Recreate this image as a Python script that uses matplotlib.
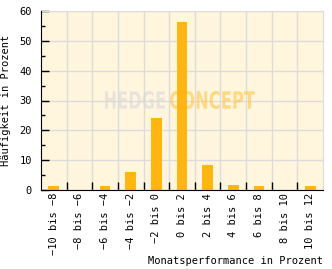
import numpy as np
import matplotlib
matplotlib.use("Agg")
import matplotlib.pyplot as plt
from matplotlib.ticker import MultipleLocator
from matplotlib.textpath import TextPath
from matplotlib.font_manager import FontProperties
from matplotlib.patches import PathPatch
from matplotlib.transforms import Affine2D, IdentityTransform

# === DATA ===
categories = ["-10 bis -8", "-8 bis -6", "-6 bis -4", "-4 bis -2", "-2 bis 0",
              "0 bis 2", "2 bis 4", "4 bis 6", "6 bis 8", "8 bis 10", "10 bis 12"]
frequency = [1.5, 0.0, 1.5, 6.2, 24.0, 56.2, 8.5, 1.8, 1.2, 0.0, 1.2]

# === STYLE ===
BG = "#fff6dd"
BAR = "#ffb612"
GRID = "#dcdcdc"
plt.rcParams["font.family"] = ["DejaVu Sans Mono"]
plt.rcParams["font.size"] = 7.5

fig = plt.figure(figsize=(3.32, 2.69), dpi=100)
ax = fig.add_axes([41 / 332, 1 - 190 / 269, 282 / 332, 179 / 269])
ax.set_facecolor(BG)

x = np.arange(len(categories))
ax.bar(x, frequency, width=0.42, color=BAR, zorder=3)

ax.set_xlim(-0.5, len(categories) - 0.5)
ax.set_ylim(0, 60)

# gridlines at category boundaries
ax.set_xticks(x[:-1] + 0.5, minor=True)
ax.set_xticks(x)
ax.set_xticklabels([c.replace("-", "\u2212") for c in categories], rotation=90)
ax.yaxis.set_major_locator(MultipleLocator(10))
ax.yaxis.set_minor_locator(MultipleLocator(5))
ax.grid(True, which="minor", axis="x", color=GRID, lw=1, zorder=0)
ax.grid(True, which="major", axis="y", color=GRID, lw=1, zorder=0)

ax.tick_params(axis="x", which="major", length=0, pad=2)
ax.tick_params(axis="x", which="minor", direction="in", length=6, width=1, color="black")
ax.tick_params(axis="y", which="major", direction="in", length=6, width=1, pad=6.5)
ax.tick_params(axis="y", which="minor", direction="in", length=3, width=1)

for s in ["top", "right"]:
    ax.spines[s].set_color(GRID)
for s in ["left", "bottom"]:
    ax.spines[s].set_color("black")
    ax.spines[s].set_zorder(4)

ax.set_ylabel("Häufigkeit in Prozent", labelpad=6)
fig.text(323 / 332, 1 - 261 / 269, "Monatsperformance in Prozent",
         ha="right", va="center", fontsize=7.5)

# watermark, squeezed into a narrow box (pixel coords, origin bottom-left)
H = 269
wm_font = FontProperties(family="DejaVu Sans", weight="bold")


def watermark(word, x0, x1, y0, y1, color):
    tp = TextPath((0, 0), word, size=10, prop=wm_font)
    ext = tp.get_extents()
    tr = (Affine2D().translate(-ext.x0, -ext.y0)
          .scale((x1 - x0) / ext.width, (y1 - y0) / ext.height)
          .translate(x0, H - y1))
    patch = PathPatch(tr.transform_path(tp), facecolor=color, edgecolor="none",
                      alpha=0.6, transform=IdentityTransform(), zorder=2)
    ax.add_artist(patch)


watermark("HEDGE", 105, 165, 91, 109, "#d9d9d9")
watermark("CONCEPT", 170, 255, 91, 109, "#ffc548")

fig.savefig("out.png", dpi=100)
